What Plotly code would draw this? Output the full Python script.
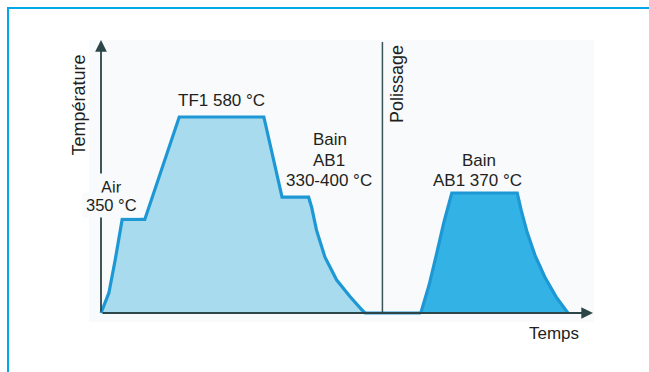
import plotly.graph_objects as go

# Heat-treatment cycle: time (arbitrary units) and temperature (°C)
cycle1_time = [0, 1.6, 2.9, 3.7, 4.3, 8.9, 15.9, 33.1, 36.8, 42.2,
               42.8, 43.8, 45.5, 47.9, 50.6, 53.2, 53.7, 65.0]
cycle1_temp = [140, 185, 260, 310, 350, 350, 580, 580, 400, 400,
               378, 326, 266, 214, 177, 145, 140, 140]

# Second bath after polishing
cycle2_time = [65.0, 66.7, 68.3, 69.7, 71.3, 84.6,
               85.4, 86.6, 88.2, 90.2, 92.5, 94.9]
cycle2_temp = [140, 194, 257, 314, 370, 370,
               337, 295, 251, 209, 171, 140]

polissage_time = 57.2

W, H = 649, 372
# plot area in pixels
PX0, PX1, PY0, PY1 = 95, 600, 36, 320

def px(p):
    return p / W

def py(p):
    return 1 - p / H

def dx(p):
    return (p - PX0) / (PX1 - PX0)

def dy(p):
    return (PY1 - p) / (PY1 - PY0)

LINE = "#1e98d5"
AXIS = "#2c4549"
TEXT = "#231f20"
PANEL = "#f8fafb"
FONT = "Liberation Sans, Arial, sans-serif"

fig = go.Figure()
fig.add_trace(go.Scatter(
    x=cycle1_time, y=cycle1_temp, mode="lines", fill="toself",
    fillcolor="#a9dbee", line=dict(color=LINE, width=3.2),
    hoverinfo="skip", showlegend=False))
fig.add_trace(go.Scatter(
    x=cycle2_time, y=cycle2_temp, mode="lines", fill="toself",
    fillcolor="#33b2e5", line=dict(color=LINE, width=3.2),
    yaxis="y2", hoverinfo="skip", showlegend=False))

shapes = [
    # faint panel background
    dict(type="rect", xref="paper", yref="paper", x0=px(89), x1=px(594),
         y0=py(322), y1=py(40), fillcolor=PANEL, line=dict(width=0),
         layer="below"),
    # page frame
    dict(type="line", xref="paper", yref="paper", x0=px(7), x1=1,
         y0=py(8), y1=py(8), line=dict(color="#00a8e8", width=2)),
    dict(type="line", xref="paper", yref="paper", x0=px(8), x1=px(8),
         y0=py(7), y1=0, line=dict(color="#00a8e8", width=2)),
    # polishing marker
    dict(type="line", xref="x", yref="y domain", x0=polissage_time,
         x1=polissage_time, y0=dy(313), y1=dy(42),
         line=dict(color="#3a5559", width=1.5)),
]

annotations = [
    # axes with arrow heads
    dict(xref="x domain", yref="y domain", axref="x domain", ayref="y domain",
         x=dx(593), y=dy(313), ax=dx(101), ay=dy(313), text="",
         showarrow=True, arrowhead=2, arrowsize=1.3, arrowwidth=1.8,
         arrowcolor=AXIS),
    dict(xref="x domain", yref="y domain", axref="x domain", ayref="y domain",
         x=dx(101), y=dy(40), ax=dx(101), ay=dy(313), text="",
         showarrow=True, arrowhead=2, arrowsize=1.3, arrowwidth=1.8,
         arrowcolor=AXIS),
]

def label(text, x, y, angle=0, size=17, bg=None, pad=0):
    annotations.append(dict(
        xref="paper", yref="paper", x=px(x), y=py(y), text=text,
        showarrow=False, xanchor="center", yanchor="middle", textangle=angle,
        bgcolor=bg, borderpad=pad,
        font=dict(family=FONT, size=size, color=TEXT)))

label("TF1 580 °C", 221.5, 100)
label("Air", 111.5, 186.5, size=16.5, bg=PANEL, pad=4)
label("350 °C", 111.5, 205.5, size=16.5, bg=PANEL, pad=3)
label("Bain", 330, 139)
label("AB1", 329, 160)
label("330-400 °C", 329, 180)
label("Bain", 478.5, 160)
label("AB1 370 °C", 477.5, 180)
label("Temps", 553.5, 333.5)
label("Polissage", 397, 84, angle=-90, size=18)
label("Température", 78.5, 105, angle=-90, size=18)

x_range = [(PX0 - 101) / 4.92, (PX1 - 101) / 4.92]
k1 = (313 - 117) / (580 - 140)
k2 = (313 - 193) / (370 - 140)
y1_range = [140 - (PY1 - 313) / k1, 140 + (313 - PY0) / k1]
y2_range = [140 - (PY1 - 313) / k2, 140 + (313 - PY0) / k2]

fig.update_layout(
    width=W, height=H, margin=dict(l=0, r=0, t=0, b=0),
    paper_bgcolor="white", plot_bgcolor="rgba(0,0,0,0)",
    xaxis=dict(domain=[px(PX0), px(PX1)], range=x_range, visible=False,
               fixedrange=True),
    yaxis=dict(domain=[py(PY1), py(PY0)], range=y1_range, visible=False,
               fixedrange=True),
    yaxis2=dict(overlaying="y", range=y2_range, visible=False,
                fixedrange=True),
    shapes=shapes, annotations=annotations,
)

fig.write_html("out.html")
